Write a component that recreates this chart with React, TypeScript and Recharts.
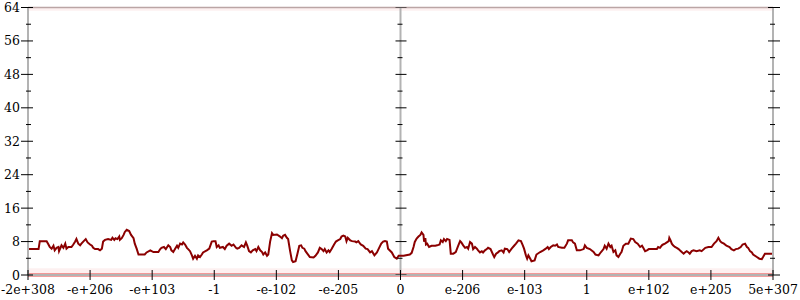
import { ComposedChart, Line, ReferenceArea, ReferenceLine, Scatter, XAxis, YAxis } from 'recharts';

// x positions are in tick units (0 = "-2e+308" ... 12 = "5e+307")
const samplePos = [
  0.0, 0.17, 0.19, 0.3, 0.33, 0.35, 0.38, 0.41, 0.43, 0.46, 0.49, 0.5, 0.54, 0.57, 0.6, 0.62, 0.65, 0.7, 0.73, 0.76,
  0.78, 0.81, 0.84, 0.86, 0.89, 0.93, 0.96, 1.0, 1.03, 1.05, 1.08, 1.13, 1.16, 1.19, 1.21, 1.24, 1.29, 1.34, 1.36, 1.39,
  1.41, 1.44, 1.47, 1.48, 1.51, 1.54, 1.56, 1.59, 1.63, 1.66, 1.7, 1.72, 1.75, 1.78, 1.88, 1.91, 1.97,
  2.02, 2.1, 2.13, 2.15, 2.19, 2.22, 2.26, 2.29, 2.31, 2.34, 2.37, 2.4, 2.42, 2.45, 2.48, 2.5, 2.53, 2.56, 2.58, 2.61,
  2.64, 2.66, 2.69, 2.72, 2.74, 2.77, 2.8, 2.82, 2.88, 2.92, 2.96, 2.99, 3.02, 3.04, 3.07, 3.09, 3.14, 3.17, 3.2, 3.24,
  3.28, 3.31, 3.35, 3.37, 3.4, 3.44, 3.48, 3.51, 3.53, 3.56, 3.59, 3.62, 3.66, 3.68, 3.71, 3.74, 3.77, 3.79, 3.82, 3.85,
  3.87, 3.9, 3.93, 3.95,
  4.01, 4.06, 4.09, 4.11, 4.14, 4.17, 4.19, 4.22, 4.25, 4.27, 4.31, 4.34, 4.37, 4.4, 4.42, 4.45, 4.47, 4.52, 4.54, 4.6,
  4.63, 4.67, 4.7, 4.73, 4.76, 4.78, 4.81, 4.84, 4.86, 4.89, 4.93, 4.96, 4.99, 5.03, 5.05, 5.08, 5.11, 5.13, 5.15, 5.19,
  5.22, 5.27, 5.29, 5.32, 5.36, 5.4, 5.44, 5.47, 5.51, 5.54, 5.58, 5.62, 5.65, 5.69, 5.72, 5.75, 5.78, 5.8, 5.86, 5.9,
  5.94, 5.97,
  6.05, 6.15, 6.18, 6.21, 6.23, 6.26, 6.29, 6.32, 6.34, 6.37, 6.38, 6.4, 6.41, 6.43, 6.46, 6.5, 6.56, 6.59, 6.63, 6.65,
  6.68, 6.7, 6.73, 6.75, 6.79, 6.81, 6.85, 6.89, 6.93, 6.96, 6.98, 7.01, 7.04, 7.07, 7.09, 7.12, 7.15, 7.17, 7.2, 7.23,
  7.25, 7.28, 7.31, 7.33, 7.36, 7.39, 7.41, 7.45, 7.49, 7.51, 7.54, 7.57, 7.59, 7.63, 7.66, 7.68, 7.72, 7.75, 7.79, 7.83,
  7.86, 7.9, 7.94, 7.97, 7.99, 8.02, 8.04,
  8.06, 8.09, 8.11, 8.16, 8.19, 8.25, 8.3, 8.34, 8.37, 8.39, 8.42, 8.46, 8.49, 8.52, 8.54, 8.6, 8.64, 8.68, 8.7, 8.76,
  8.78, 8.81, 8.84, 8.89, 8.95, 8.97, 9.0, 9.05, 9.11, 9.14, 9.19, 9.23, 9.27, 9.29, 9.32, 9.35, 9.38, 9.4, 9.43, 9.46,
  9.48, 9.51, 9.54, 9.56, 9.59, 9.63, 9.67, 9.71, 9.75, 9.78, 9.82, 9.86, 9.89, 9.91, 9.94, 9.97, 10.0,
  10.13, 10.15, 10.18, 10.21, 10.23, 10.26, 10.29, 10.32, 10.33, 10.35, 10.37, 10.39, 10.42, 10.45, 10.48, 10.5, 10.53,
  10.56, 10.58, 10.61, 10.64, 10.66, 10.69, 10.72, 10.77, 10.82, 10.85, 10.91, 10.96, 11.01, 11.05, 11.09, 11.12, 11.15,
  11.17, 11.21, 11.25, 11.3, 11.33, 11.37, 11.4, 11.44, 11.48, 11.51, 11.55, 11.58, 11.6, 11.63, 11.66, 11.68, 11.74,
  11.78, 11.82, 11.84, 11.87, 12.0,
];

const sampleVal = [
  6.2, 6.2, 8.1, 8.1, 7.3, 6.7, 6.3, 7.0, 5.9, 6.5, 6.7, 5.7, 7.1, 6.5, 7.5, 6.3, 6.7, 6.7, 7.3, 8.0,
  8.6, 7.5, 7.1, 7.5, 8.0, 8.6, 7.8, 7.3, 7.0, 6.5, 6.2, 6.2, 5.9, 6.3, 8.0, 8.4, 8.6, 8.4, 8.9, 8.4,
  8.8, 8.6, 9.2, 8.4, 8.8, 9.6, 10.3, 10.8, 10.5, 9.6, 8.8, 7.5, 6.3, 4.9, 4.9, 5.4, 5.9,
  5.5, 5.5, 6.2, 6.5, 6.7, 6.2, 7.1, 6.7, 5.9, 5.5, 6.3, 7.0, 6.5, 7.5, 7.3, 7.8, 7.3, 6.5, 6.2, 5.7,
  4.7, 3.9, 4.6, 3.9, 4.7, 4.3, 4.9, 5.4, 5.9, 6.3, 8.0, 8.1, 8.1, 6.7, 7.1, 6.5, 6.7, 6.2, 7.0, 7.5,
  7.0, 7.3, 6.5, 6.3, 6.5, 7.1, 6.7, 7.8, 7.1, 5.7, 5.4, 5.9, 6.2, 5.7, 6.7, 5.9, 5.5, 4.9, 5.4, 4.6,
  4.9, 8.0, 10.0, 9.6,
  9.7, 9.2, 8.8, 9.4, 9.6, 8.9, 8.6, 5.9, 3.5, 3.1, 3.3, 5.1, 7.0, 7.1, 6.5, 6.3, 5.7, 4.7, 4.3, 4.2,
  4.6, 5.4, 6.5, 6.2, 5.7, 6.2, 5.4, 5.9, 5.5, 6.2, 7.3, 8.0, 8.3, 8.6, 9.2, 9.4, 9.2, 8.1, 8.9, 8.3,
  8.1, 8.0, 7.8, 8.1, 7.3, 7.0, 6.3, 6.2, 5.4, 5.7, 4.7, 5.4, 6.3, 7.5, 8.0, 8.1, 8.0, 6.3, 5.4, 4.3,
  3.9, 4.6,
  4.6, 4.9, 5.3, 6.7, 7.9, 8.7, 9.2, 9.6, 10.2, 9.6, 8.0, 8.8, 7.3, 7.5, 6.7, 7.0, 7.0, 7.1, 7.3, 8.3,
  7.9, 8.6, 8.1, 8.6, 8.4, 5.1, 5.1, 5.5, 7.0, 8.1, 7.8, 7.1, 6.5, 6.7, 6.3, 7.9, 7.5, 6.2, 6.7, 6.3,
  5.9, 5.4, 5.7, 5.4, 5.9, 6.2, 6.5, 6.2, 4.9, 4.3, 5.1, 5.4, 5.7, 5.9, 5.4, 6.3, 6.2, 5.5, 6.3, 7.0,
  7.5, 8.3, 8.1, 7.1, 6.3, 4.7, 3.9,
  4.7, 3.9, 3.3, 3.5, 4.9, 5.5, 5.9, 6.3, 6.7, 6.2, 6.7, 7.1, 7.0, 7.3, 6.7, 6.5, 6.5, 7.5, 8.3, 8.3,
  7.8, 7.5, 5.9, 5.9, 6.2, 7.1, 6.5, 6.2, 5.5, 4.9, 4.7, 5.5, 6.2, 7.0, 6.3, 7.5, 6.7, 7.0, 5.5, 5.9,
  4.7, 4.3, 5.1, 5.5, 7.0, 7.5, 7.5, 8.7, 8.6, 7.9, 7.5, 6.7, 7.0, 6.5, 5.7, 5.9, 6.2,
  6.2, 6.7, 6.5, 7.1, 7.3, 7.5, 7.8, 8.1, 8.9, 8.3, 7.5, 7.1, 6.7, 6.5, 6.2, 5.9, 5.5,
  5.1, 5.4, 5.7, 5.4, 5.1, 5.7, 5.9, 5.7, 5.9, 5.7, 6.5, 6.7, 6.7, 7.5, 8.1, 8.9, 8.1,
  7.8, 7.5, 7.0, 6.7, 6.2, 5.9, 6.2, 6.3, 6.7, 7.3, 7.5, 6.7, 6.5, 5.7, 5.4, 4.9, 4.3,
  3.9, 3.8, 4.3, 5.1, 5.1,
];

const xTickPos = [0, 1, 2, 3, 4, 5, 6, 7, 8, 9, 10, 11, 12];
const xTickLabels = ['-2e+308', '-e+206', '-e+103', '-1', '-e-102', '-e-205', '0', 'e-206', 'e-103', '1', 'e+102', 'e+205', '5e+307'];
const yTicks = [0, 4, 8, 12, 16, 20, 24, 28, 32, 36, 40, 44, 48, 52, 56, 60, 64];
const middleAxisPos = 6;

const lineData = samplePos.map((x, i) => ({ x, y: sampleVal[i] }));
const middleTicks = yTicks.map((y) => ({ x: middleAxisPos, y }));

const FONT = 'DejaVu Serif, serif';

const LeftTick = ({ x, y, payload }: any) => {
  const major = payload.value % 8 === 0;
  return (
    <g>
      <line x1={x - (major ? 7 : 2)} x2={x + (major ? 5 : 3)} y1={y} y2={y} stroke="#000" />
      {major && (
        <text x={x - 8} y={y} dy={4.5} textAnchor="end" fontFamily={FONT} fontSize={12.5} fill="#000">
          {payload.value}
        </text>
      )}
    </g>
  );
};

const RightTick = ({ x, y, payload }: any) => {
  const major = payload.value % 8 === 0;
  return <line x1={x - (major ? 5 : 3)} x2={x + (major ? 7 : 2)} y1={y} y2={y} stroke="#000" />;
};

const BottomTick = ({ x, y, payload, index }: any) => (
  <g>
    <line x1={x} x2={x} y1={y - 5} y2={y + 5} stroke="#000" />
    <text x={x} y={y + 19} textAnchor="middle" fontFamily={FONT} fontSize={12.5} fill="#000">
      {xTickLabels[index] ?? payload.value}
    </text>
  </g>
);

const MiddleTick = ({ cx, cy, payload }: any) => {
  const major = payload.y % 8 === 0;
  return <line x1={cx - (major ? 5 : 3)} x2={cx + (major ? 6 : 2)} y1={cy} y2={cy} stroke="#000" />;
};

export default function App() {
  return (
    <div style={{ position: 'absolute', left: 0, top: 0 }}>
      <ComposedChart width={800} height={300} margin={{ top: 7.5, right: 0, bottom: 0, left: 0 }}>
        <XAxis
          type="number"
          dataKey="x"
          domain={[0, 12]}
          ticks={xTickPos}
          interval={0}
          tickSize={0}
          tickMargin={0}
          tickLine={false}
          height={25}
          allowDataOverflow
          axisLine={{ stroke: '#b3b3b3', strokeWidth: 2 }}
          tick={<BottomTick />}
        />
        <YAxis
          yAxisId="left"
          type="number"
          domain={[0, 64]}
          ticks={yTicks}
          interval={0}
          tickSize={0}
          tickMargin={0}
          tickLine={false}
          width={28}
          allowDataOverflow
          axisLine={{ stroke: '#b3b3b3', strokeWidth: 2 }}
          tick={<LeftTick />}
        />
        <YAxis
          yAxisId="right"
          orientation="right"
          type="number"
          domain={[0, 64]}
          ticks={yTicks}
          interval={0}
          tickSize={0}
          tickMargin={0}
          tickLine={false}
          width={27}
          allowDataOverflow
          axisLine={{ stroke: '#b3b3b3', strokeWidth: 2 }}
          tick={<RightTick />}
        />
        <ReferenceArea yAxisId="left" y1={0} y2={1.6} fill="#f08080" fillOpacity={0.12} stroke="none" />
        <ReferenceArea yAxisId="left" y1={63.2} y2={64} fill="#f08080" fillOpacity={0.12} stroke="none" />
        <ReferenceLine yAxisId="left" y={64} stroke="#bba5a5" strokeWidth={1.5} />
        <ReferenceLine yAxisId="left" x={middleAxisPos} stroke="#b3b3b3" strokeWidth={2} />
        <ReferenceLine yAxisId="left" y={0} stroke="#e8413e" strokeWidth={3} />
        <Scatter
          yAxisId="left"
          data={middleTicks}
          dataKey="y"
          shape={<MiddleTick />}
          isAnimationActive={false}
        />
        <Line
          yAxisId="left"
          data={lineData}
          dataKey="y"
          type="linear"
          stroke="#8b0000"
          strokeWidth={2}
          dot={false}
          isAnimationActive={false}
        />
      </ComposedChart>
    </div>
  );
}
